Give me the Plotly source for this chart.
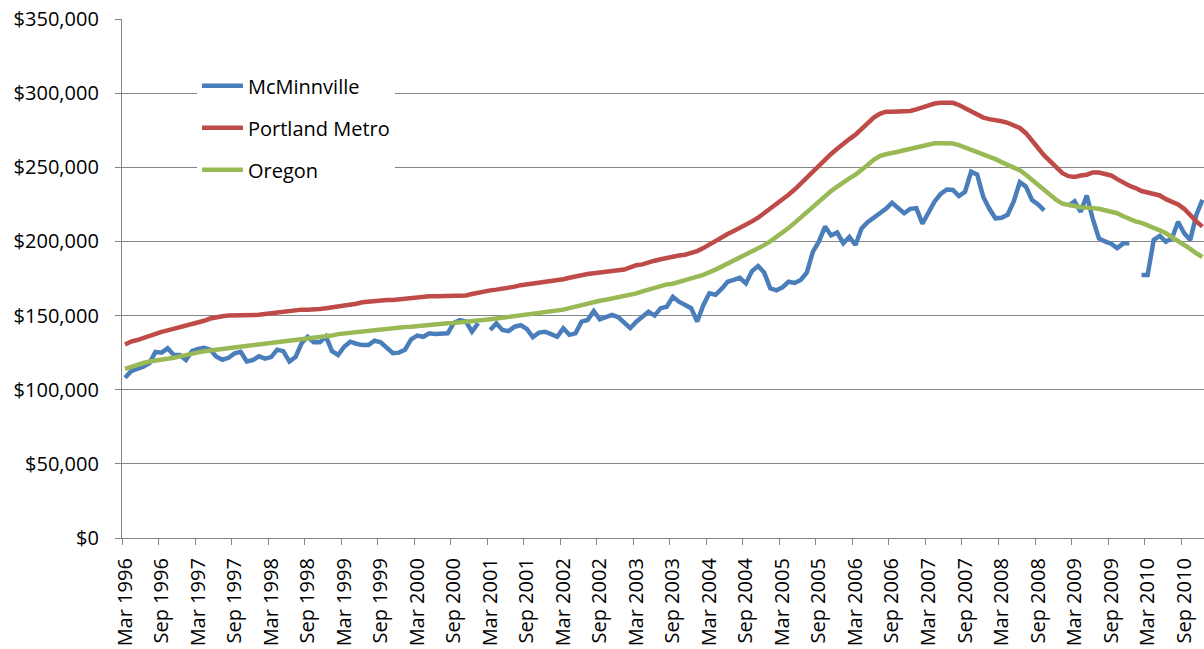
import plotly.graph_objects as go

MONTHS = ["Jan", "Feb", "Mar", "Apr", "May", "Jun", "Jul", "Aug", "Sep", "Oct", "Nov", "Dec"]
START_YEAR = 1996
START_MONTH = 2  # index into MONTHS -> Mar
N_POINTS = 178   # Mar 1996 .. Dec 2010

categories = []
for k in range(N_POINTS):
    m = (START_MONTH + k) % 12
    y = START_YEAR + (START_MONTH + k) // 12
    categories.append(f"{MONTHS[m]} {y}")

mcminnville = [
    108, 112.5, 114, 115.5, 118, 125.5, 125, 127.9, 123.4, 123.4,
    120, 126, 127.5, 128.3, 127, 122.3, 120.2, 121.5, 124.5, 125.6,
    119, 120, 122.5, 121, 122, 127, 126, 119, 122, 131.3,
    135.7, 132, 132, 136, 126, 123.4, 129, 132.4, 131, 130.1,
    130.1, 133, 132, 128, 124.6, 125, 127, 134, 136.5, 135.7,
    138, 137.5, 137.5, 138, 145, 147, 146, 139.1, 144.8, None,
    140.3, 144.8, 140.3, 139.5, 142.5, 143.5, 141, 135.5, 138.5, 139.1,
    137.5, 135.7, 141.4, 137, 138, 145.9, 147, 153, 147.5, 149,
    150.5, 149, 145, 141.5, 145.9, 149, 152.6, 150, 155, 156,
    162.7, 159.4, 157.5, 155, 146, 157, 165, 164, 168, 172.8,
    174, 175.5, 171.7, 180, 183.4, 179, 168.4, 167, 169, 172.8,
    172, 174, 179, 193, 200, 210, 204, 206, 198.7, 203,
    197.6, 208.8, 213, 216, 219, 222, 226, 222.4, 219, 222,
    222.4, 212, 220, 227, 232, 235, 234.7, 230.6, 233.5, 247,
    245, 230, 222, 215.6, 216, 218, 227, 240, 237, 228,
    225, 221, None, None, None, 224, 227, 220, 231, 215,
    202, 200, 198.5, 195.5, 198.7, 198.7, None, 177.4, 177.4, 201,
    203.7, 199.8, 202.1, 213.3, 205.5, 201, 217.8, 228,
]

portland = [
    130.5, 132.5, 133.5, 135, 136, 137.5, 139, 140, 141, 142,
    143, 144, 145, 146.5, 148, 149, 149.5, 150, 150, 150,
    150, 150, 150.5, 151, 151.5, 152, 152.5, 153.5, 154, 154,
    154, 154, 154.5, 155, 155.5, 156, 156.5, 157, 158, 159,
    159.5, 159.5, 160, 160.5, 160.5, 161, 161, 162, 162.5, 163,
    163, 163, 163, 163, 163, 163, 163.5, 164.5, 165.5, 166.5,
    167, 167.5, 168, 168.5, 169.5, 170.5, 171, 171.5, 172, 172.5,
    173, 173.5, 174.5, 175.5, 176.5, 177.5, 178, 178.5, 179, 179.5,
    179.5, 180, 181, 182.5, 184, 184.5, 186, 187, 188, 189,
    189.5, 190.5, 191, 192, 193.5, 195.5, 198, 200.5, 202.5, 205,
    207, 209, 211, 213.5, 216, 219, 222, 225, 228, 231.5,
    235, 239, 243, 247.5, 251.5, 256, 259, 262.5, 266, 269,
    272, 276, 280, 283.5, 286, 287.5, 287.5, 287.5, 288, 288,
    289, 290.5, 292, 293, 293.5, 293.5, 293.5, 292, 290, 288,
    285.5, 283.5, 282.5, 282, 281, 280, 278.5, 276.5, 273, 268.5,
    263, 258, 254, 250, 246, 244, 243.5, 244.5, 245, 246.5,
    246.5, 245.5, 244.5, 242, 239.5, 237.5, 236, 234, 233, 232,
    231, 228.5, 227, 225, 222, 217.5, 213.5, 210,
]

oregon = [
    114, 115.5, 116.5, 118, 119, 119.5, 120, 121, 121.5, 122.5,
    123.5, 124.5, 125, 126, 126.5, 127, 127.5, 127.5, 128, 128.5,
    129, 129.5, 130, 130.5, 131, 131.5, 132, 132.5, 133, 133.5,
    134, 134.5, 135.5, 136, 136.5, 137.5, 138, 138.5, 139, 139.5,
    140, 140.3, 140.7, 141, 141.5, 142, 142.3, 142.5, 143, 143,
    143.5, 144, 144.5, 144.8, 145, 145.3, 145.6, 146, 146.5, 147,
    147.5, 148, 148.5, 149, 149.5, 150, 150.5, 151, 151.5, 152,
    152.5, 153.3, 154, 155, 156, 157.3, 158.5, 159.5, 160, 160.7,
    161.5, 162.5, 163.5, 164.3, 165, 166.3, 167.5, 169, 170.3, 171,
    171.5, 172.5, 173.5, 175, 176.2, 177.5, 179, 181, 183, 185,
    187, 189, 191, 193, 195.5, 197.5, 200, 203, 205.5, 209,
    212.5, 216, 220, 224, 227.5, 230.5, 234, 237, 240, 242.5,
    245, 248, 251.5, 255, 257.5, 258.8, 260, 260.5, 261.5, 262.5,
    263.5, 264.5, 265.5, 266.2, 266.2, 266.2, 266, 265, 263.5, 261.5,
    260, 258.3, 256.8, 255.5, 253.5, 251.5, 250, 248, 245, 241.5,
    238, 235, 231.5, 228, 225.5, 224.5, 223.5, 223, 222.8, 222.5,
    222, 221, 220, 219, 217, 215, 213.5, 212.5, 211, 209.5,
    207.5, 205.5, 203, 200, 197.5, 195, 192, 189.5,
]

series_names = ["McMinnville", "Portland Metro", "Oregon"]
series_colors = ["#4A7EBB", "#BE4B48", "#98B954"]
series_values = [mcminnville, portland, oregon]

FONT = "Open Sans"
FSIZE = 20
GRID = "#868686"

fig = go.Figure()
for name, color, vals in zip(series_names, series_colors, series_values):
    fig.add_trace(go.Scatter(
        x=categories,
        y=[None if v is None else v * 1000 for v in vals],
        mode="lines",
        name=name,
        legendgroup=name,
        line=dict(color=color, width=4.5),
        connectgaps=False,
    ))

fig.update_layout(
    width=1204, height=649,
    margin=dict(l=122, r=0, t=19, b=111),
    plot_bgcolor="white", paper_bgcolor="white",
    font=dict(family=FONT, size=FSIZE, color="#000000"),
    showlegend=True,
    legend=dict(
        x=0.0693, y=0.909, xanchor="left", yanchor="top",
        bgcolor="white", borderwidth=0,
        font=dict(family=FONT, size=FSIZE, color="#000000"),
        tracegroupgap=13,
        traceorder="grouped",
        itemwidth=41,
    ),
)

fig.update_xaxes(
    type="category",
    range=[-0.5, 177.26],
    tickmode="linear", tick0=0, dtick=6,
    tickson="boundaries",
    showgrid=False,
    ticks="outside", ticklen=6, tickcolor=GRID, tickwidth=1.3,
    tickangle=-90,
    ticklabelstandoff=11,
    automargin=False,
    showline=True, linecolor=GRID, linewidth=1.3,
    tickfont=dict(family=FONT, size=FSIZE),
)

fig.update_yaxes(
    range=[0, 350000],
    tickmode="linear", tick0=0, dtick=50000,
    tickprefix="$", tickformat=",.0f",
    showgrid=True, gridcolor=GRID, gridwidth=1.3,
    zeroline=False,
    ticks="outside", ticklen=6, tickcolor=GRID, tickwidth=1.3,
    ticklabelstandoff=12,
    automargin=False,
    showline=True, linecolor=GRID, linewidth=1.3,
    tickfont=dict(family=FONT, size=FSIZE),
)

fig.write_html("out.html")
